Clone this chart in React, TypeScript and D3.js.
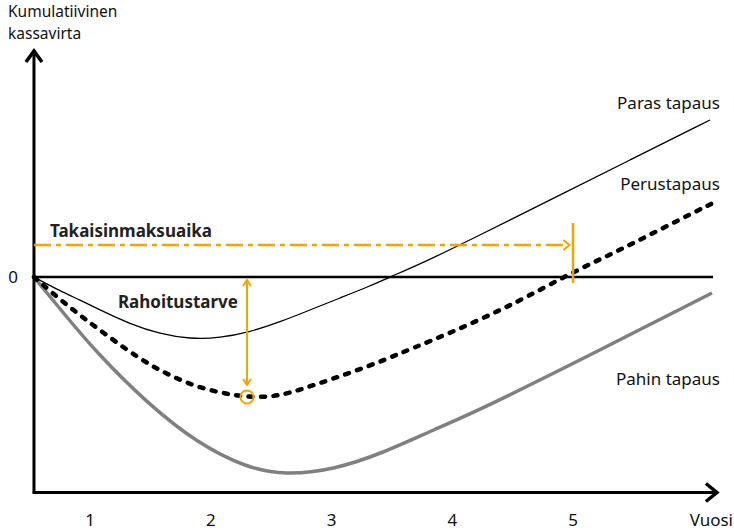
import React from 'react';
import * as d3 from 'd3';

// x in years, y in relative cash-flow units (0 = break-even)
const yearTicks = [1, 2, 3, 4, 5];

const parasX = [0.536, 0.752, 0.917, 1.083, 1.331, 1.58, 1.828, 2.077, 2.325, 2.573, 2.822, 3.07, 3.319, 3.484, 3.791, 4.23, 4.81, 5.472, 6.135];
const parasY = [0, -7, -11.5, -16.5, -23.5, -28.5, -31, -30.5, -27.5, -22.5, -16.5, -10.5, -4.5, 0, 8, 21, 38.5, 58.5, 78.5];

const perusX = [0.536, 0.669, 0.859, 1.058, 1.306, 1.497, 1.687, 1.911, 2.135, 2.3, 2.491, 2.656, 2.88, 3.153, 3.46, 3.675, 3.981, 4.313, 4.619, 5.0, 5.389, 5.762, 6.159];
const perusY = [0, -7, -16.5, -25.5, -36.5, -44, -50, -55.5, -58.5, -60, -60, -58, -53.5, -48, -41, -35.5, -28, -19, -10, 2.5, 13.5, 25, 37];

const pahinX = [0.536, 0.793, 1.058, 1.472, 1.886, 2.3, 2.615, 3.012, 3.427, 3.841, 4.23, 5.224, 6.151];
const pahinY = [0, -19, -38, -63, -83, -95.5, -99, -96.5, -88, -76.5, -66.5, -36.5, -8];

const axisStartX = 0.536;
const axisEndX = 6.2;
const axisBottomY = -107.75;
const axisTopY = 114;
const zeroLineEndX = 6.16;

const paybackLevel = 16;
const paybackYear = 4.97;
const paybackMarkYear = 5.0;
const paybackMarkRange = [27, -3];
const fundingYear = 2.3;
const fundingRange = [-1.5, -54];
const fundingLow = -60;

const orange = '#F0A500';
const font = '"Noto Sans", "Open Sans", sans-serif';

type Pt = [number, number];
const zip = (xs: number[], ys: number[]): Pt[] => xs.map((x, i) => [x, ys[i]]);

export default function App() {
  const width = 734;
  const height = 530;

  const x = d3.scaleLinear().domain([1, 5]).range([90, 573]);
  const y = d3.scaleLinear().domain([0, -100]).range([277, 477]);

  const line = d3
    .line<Pt>()
    .x((d) => x(d[0]))
    .y((d) => y(d[1]))
    .curve(d3.curveBasis);

  const x0 = x(axisStartX);
  const yb = y(axisBottomY);
  const yt = y(axisTopY);
  const xe = x(axisEndX);

  const pbY = y(paybackLevel);
  const pbX = x(paybackYear);
  const fX = x(fundingYear);
  const fTop = y(fundingRange[0]);
  const fBot = y(fundingRange[1]);

  return (
    <svg
      width={width}
      height={height}
      style={{ position: 'absolute', left: 0, top: 0, background: '#fff' }}
      fontFamily={font}
    >
      {/* curves */}
      <path d={line(zip(pahinX, pahinY)) || ''} fill="none" stroke="#808080" strokeWidth={3.5} />
      <path d={line(zip(parasX, parasY)) || ''} fill="none" stroke="#000" strokeWidth={1.3} />
      <path
        d={line(zip(perusX, perusY)) || ''}
        fill="none"
        stroke="#000"
        strokeWidth={4.5}
        strokeDasharray="4,8.5"
        strokeLinecap="round"
      />

      {/* zero line */}
      <line x1={x0} x2={x(zeroLineEndX)} y1={y(0)} y2={y(0)} stroke="#000" strokeWidth={2.5} />

      {/* axes */}
      <line x1={x0} x2={x0} y1={yb} y2={yt + 1} stroke="#000" strokeWidth={3} />
      <line x1={x0 - 1.5} x2={xe - 1} y1={yb} y2={yb} stroke="#000" strokeWidth={3} />
      <path
        d={`M${x0 - 8},${yt + 13} L${x0},${yt + 2} L${x0 + 8},${yt + 13}`}
        fill="none"
        stroke="#000"
        strokeWidth={3.5}
      />
      <path
        d={`M${xe - 12},${yb - 9} L${xe - 1},${yb} L${xe - 12},${yb + 9}`}
        fill="none"
        stroke="#000"
        strokeWidth={3.5}
      />

      {/* payback period */}
      <line x1={x0} x2={pbX - 1} y1={pbY} y2={pbY} stroke={orange} strokeWidth={2.5} strokeDasharray="17,5,5,5" />
      <path
        d={`M${pbX - 6},${pbY - 5} L${pbX},${pbY} L${pbX - 6},${pbY + 5}`}
        fill="none"
        stroke={orange}
        strokeWidth={2}
      />
      <line
        x1={x(paybackMarkYear)}
        x2={x(paybackMarkYear)}
        y1={y(paybackMarkRange[0])}
        y2={y(paybackMarkRange[1])}
        stroke={orange}
        strokeWidth={2.5}
      />
      <text x={x0 + 16} y={pbY - 8} fontSize={17} fontWeight="bold" fill="#222">
        Takaisinmaksuaika
      </text>

      {/* funding need */}
      <line x1={fX} x2={fX} y1={fTop} y2={fBot} stroke={orange} strokeWidth={2} />
      <path d={`M${fX - 4},${fTop + 6} L${fX},${fTop} L${fX + 4},${fTop + 6}`} fill="none" stroke={orange} strokeWidth={2} />
      <path d={`M${fX - 4},${fBot - 6} L${fX},${fBot} L${fX + 4},${fBot - 6}`} fill="none" stroke={orange} strokeWidth={2} />
      <circle cx={fX} cy={y(fundingLow)} r={6.5} fill="none" stroke={orange} strokeWidth={2} />
      <text x={fX - 9} y={y(-15.5)} textAnchor="end" fontSize={17} fontWeight="bold" fill="#222">
        Rahoitustarve
      </text>

      {/* series labels */}
      <text x={720} y={y(parasY[parasY.length - 1] + 5.5)} textAnchor="end" fontSize={17} fill="#111">
        Paras tapaus
      </text>
      <text x={720} y={y(perusY[perusY.length - 1] + 6.5)} textAnchor="end" fontSize={17} fill="#111">
        Perustapaus
      </text>
      <text x={720} y={y(-54)} textAnchor="end" fontSize={17} fill="#111">
        Pahin tapaus
      </text>

      {/* axis labels */}
      <text x={8} y={17} fontSize={15.5} fill="#111">
        Kumulatiivinen
      </text>
      <text x={8} y={39} fontSize={15.5} fill="#111">
        kassavirta
      </text>
      <text x={13} y={y(0)} dy="0.35em" textAnchor="middle" fontSize={17} fill="#111">
        0
      </text>
      {yearTicks.map((t) => (
        <text key={t} x={x(t)} y={526} textAnchor="middle" fontSize={17} fill="#111">
          {t}
        </text>
      ))}
      <text x={733} y={526} textAnchor="end" fontSize={17} fill="#111">
        Vuosi
      </text>
    </svg>
  );
}
